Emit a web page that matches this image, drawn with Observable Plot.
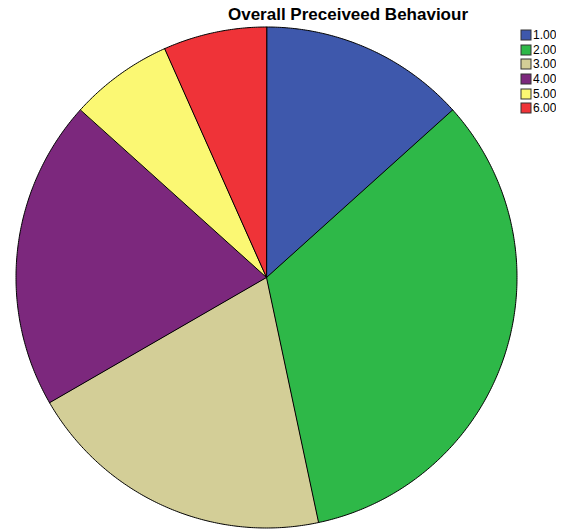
<!DOCTYPE html>
<html>
<head>
<meta charset="utf-8">
<script src="https://cdn.jsdelivr.net/npm/d3@7"></script>
<script src="https://cdn.jsdelivr.net/npm/@observablehq/plot@0.6"></script>
<style>
  html, body { margin: 0; padding: 0; background: #fff; }
  #chart { position: relative; width: 568px; height: 531px; font-family: Arial, "Liberation Sans", sans-serif; }
  #legend { position: absolute; left: 521px; top: 28px; }
  #legend .lg-swatches { margin: 0; }
  #legend .lg-swatch { display: flex; align-items: center; height: 14.6px; padding: 0; margin: 0; }
  #legend .lg-swatch svg { margin-right: 2px; overflow: visible; }
  #legend .lg-swatch svg rect { stroke: #333; stroke-width: 1px; }
</style>
</head>
<body>
<div id="chart"></div>
<script>
// Overall perceived behaviour: counts per rating category
const title = "Overall Preceiveed Behaviour";
const categories = ["1.00", "2.00", "3.00", "4.00", "5.00", "6.00"];
const counts = [2, 5, 3, 3, 1, 1];
const colors = ["#3E58AC", "#2EB848", "#D3CE97", "#7C287D", "#FBF873", "#EF3338"];

// Pie geometry (pixels)
const W = 568, H = 531;
const cx = 266, cy = 277, r = 250.5;

// Build each slice as a closed polygon on the unit circle, clockwise from 12 o'clock
const arcs = d3.pie().sort(null)(counts);
const slices = arcs.flatMap((s, i) => {
  const span = s.endAngle - s.startAngle;
  const n = Math.max(2, Math.ceil(span / (Math.PI / 360)));
  const pts = [{cat: categories[i], x: 0, y: 0}];
  for (let k = 0; k <= n; ++k) {
    const a = s.startAngle + span * k / n;
    pts.push({cat: categories[i], x: Math.sin(a), y: Math.cos(a)});
  }
  return pts;
});

const color = {domain: categories, range: colors};

const plot = Plot.plot({
  width: W,
  height: H,
  margin: 0,
  style: {background: "transparent", overflow: "visible", fontFamily: "Arial, 'Liberation Sans', sans-serif"},
  x: {domain: [-1, 1], range: [cx - r, cx + r], axis: null},
  y: {domain: [-1, 1], range: [cy + r, cy - r], axis: null},
  color,
  marks: [
    Plot.line(slices, {
      x: "x", y: "y", z: "cat", fill: "cat",
      stroke: "#000", strokeWidth: 1, strokeLinejoin: "round",
      curve: "linear-closed"
    }),
    Plot.text([title], {
      text: d => d,
      frameAnchor: "top",
      lineAnchor: "bottom",
      dx: 63.5, dy: 19,
      fontSize: 17, fontWeight: "bold", fill: "#000"
    })
  ]
});

const legend = Plot.legend({
  color,
  legend: "swatches",
  columns: 1,
  swatchSize: 10,
  className: "lg",
  style: {fontSize: "12px", fontFamily: "Arial, 'Liberation Sans', sans-serif", color: "#000"}
});

const chart = document.getElementById("chart");
chart.appendChild(plot);
const holder = document.createElement("div");
holder.id = "legend";
holder.appendChild(legend);
chart.appendChild(holder);
</script>
</body>
</html>
